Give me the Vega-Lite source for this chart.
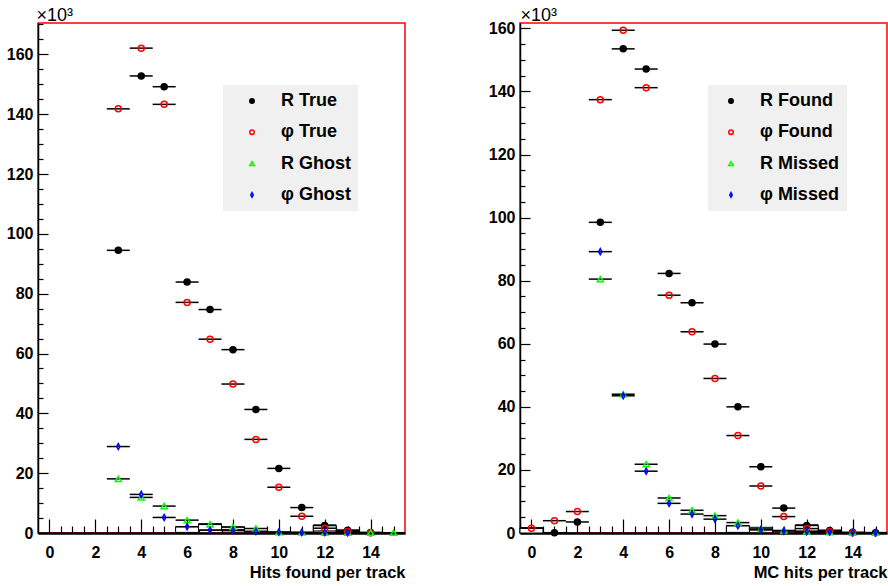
{
  "$schema": "https://vega.github.io/schema/vega-lite/v6.json",
  "padding": {"left": 5, "top": 5, "right": 0, "bottom": 0},
  "background": "white",
  "config": {
    "font": "Liberation Sans",
    "view": {"stroke": "#ff0000", "strokeWidth": 1.5},
    "axis": {
      "grid": false,
      "domainColor": "#000",
      "tickColor": "#000",
      "tickWidth": 1.2,
      "labelFont": "Liberation Sans",
      "labelFontSize": 16,
      "labelFontWeight": "bold",
      "labelColor": "#000",
      "titleFont": "Liberation Sans",
      "titleColor": "#000"
    }
  },
  "datasets": {
    "leftPts": [
      {"x": 3, "y": 94.5, "s": "R True"}, {"x": 4, "y": 152.8, "s": "R True"}, {"x": 5, "y": 149.2, "s": "R True"},
      {"x": 6, "y": 83.9, "s": "R True"}, {"x": 7, "y": 74.7, "s": "R True"}, {"x": 8, "y": 61.3, "s": "R True"},
      {"x": 9, "y": 41.3, "s": "R True"}, {"x": 10, "y": 21.6, "s": "R True"}, {"x": 11, "y": 8.5, "s": "R True"},
      {"x": 12, "y": 2.5, "s": "R True"}, {"x": 13, "y": 0.9, "s": "R True"}, {"x": 14, "y": 0.2, "s": "R True"},
      {"x": 3, "y": 141.8, "s": "φ True"}, {"x": 4, "y": 162.1, "s": "φ True"}, {"x": 5, "y": 143.3, "s": "φ True"},
      {"x": 6, "y": 77.1, "s": "φ True"}, {"x": 7, "y": 64.8, "s": "φ True"}, {"x": 8, "y": 49.8, "s": "φ True"},
      {"x": 9, "y": 31.3, "s": "φ True"}, {"x": 10, "y": 15.3, "s": "φ True"}, {"x": 11, "y": 5.6, "s": "φ True"},
      {"x": 12, "y": 1.6, "s": "φ True"}, {"x": 13, "y": 0.5, "s": "φ True"}, {"x": 14, "y": 0.1, "s": "φ True"},
      {"x": 3, "y": 18.1, "s": "R Ghost"}, {"x": 4, "y": 11.9, "s": "R Ghost"}, {"x": 5, "y": 9.0, "s": "R Ghost"},
      {"x": 6, "y": 4.3, "s": "R Ghost"}, {"x": 7, "y": 2.9, "s": "R Ghost"}, {"x": 8, "y": 2.0, "s": "R Ghost"},
      {"x": 9, "y": 1.5, "s": "R Ghost"}, {"x": 10, "y": 0.3, "s": "R Ghost"}, {"x": 11, "y": 0.2, "s": "R Ghost"},
      {"x": 12, "y": 0.1, "s": "R Ghost"}, {"x": 13, "y": 0.1, "s": "R Ghost"}, {"x": 14, "y": 0.1, "s": "R Ghost"},
      {"x": 15, "y": 0.1, "s": "R Ghost"},
      {"x": 3, "y": 28.9, "s": "φ Ghost"}, {"x": 4, "y": 12.9, "s": "φ Ghost"}, {"x": 5, "y": 5.2, "s": "φ Ghost"},
      {"x": 6, "y": 2.1, "s": "φ Ghost"}, {"x": 7, "y": 1.0, "s": "φ Ghost"}, {"x": 8, "y": 0.8, "s": "φ Ghost"},
      {"x": 9, "y": 0.5, "s": "φ Ghost"}, {"x": 10, "y": 0.3, "s": "φ Ghost"}, {"x": 11, "y": 0.2, "s": "φ Ghost"},
      {"x": 12, "y": 0.2, "s": "φ Ghost"}, {"x": 13, "y": 0.1, "s": "φ Ghost"}
    ],
    "rightPts": [
      {"x": 1, "y": 0.1, "s": "R Found"}, {"x": 2, "y": 3.5, "s": "R Found"}, {"x": 3, "y": 98.5, "s": "R Found"},
      {"x": 4, "y": 153.5, "s": "R Found"}, {"x": 5, "y": 147.1, "s": "R Found"}, {"x": 6, "y": 82.3, "s": "R Found"},
      {"x": 7, "y": 73.0, "s": "R Found"}, {"x": 8, "y": 59.9, "s": "R Found"}, {"x": 9, "y": 40.0, "s": "R Found"},
      {"x": 10, "y": 21.0, "s": "R Found"}, {"x": 11, "y": 7.9, "s": "R Found"}, {"x": 12, "y": 2.4, "s": "R Found"},
      {"x": 13, "y": 0.8, "s": "R Found"}, {"x": 14, "y": 0.2, "s": "R Found"}, {"x": 15, "y": 0.1, "s": "R Found"},
      {"x": 0, "y": 1.5, "s": "φ Found"}, {"x": 1, "y": 3.9, "s": "φ Found"}, {"x": 2, "y": 6.8, "s": "φ Found"},
      {"x": 3, "y": 137.4, "s": "φ Found"}, {"x": 4, "y": 159.4, "s": "φ Found"}, {"x": 5, "y": 141.2, "s": "φ Found"},
      {"x": 6, "y": 75.4, "s": "φ Found"}, {"x": 7, "y": 63.8, "s": "φ Found"}, {"x": 8, "y": 49.0, "s": "φ Found"},
      {"x": 9, "y": 30.9, "s": "φ Found"}, {"x": 10, "y": 14.9, "s": "φ Found"}, {"x": 11, "y": 5.2, "s": "φ Found"},
      {"x": 12, "y": 1.4, "s": "φ Found"}, {"x": 13, "y": 0.5, "s": "φ Found"}, {"x": 14, "y": 0.1, "s": "φ Found"},
      {"x": 3, "y": 80.5, "s": "R Missed"}, {"x": 4, "y": 44.0, "s": "R Missed"}, {"x": 5, "y": 21.8, "s": "R Missed"},
      {"x": 6, "y": 11.1, "s": "R Missed"}, {"x": 7, "y": 7.2, "s": "R Missed"}, {"x": 8, "y": 5.5, "s": "R Missed"},
      {"x": 9, "y": 3.3, "s": "R Missed"}, {"x": 10, "y": 1.3, "s": "R Missed"}, {"x": 11, "y": 0.8, "s": "R Missed"},
      {"x": 12, "y": 0.5, "s": "R Missed"}, {"x": 13, "y": 0.3, "s": "R Missed"}, {"x": 14, "y": 0.1, "s": "R Missed"},
      {"x": 15, "y": 0.1, "s": "R Missed"},
      {"x": 3, "y": 89.2, "s": "φ Missed"}, {"x": 4, "y": 43.5, "s": "φ Missed"}, {"x": 5, "y": 19.6, "s": "φ Missed"},
      {"x": 6, "y": 9.4, "s": "φ Missed"}, {"x": 7, "y": 6.0, "s": "φ Missed"}, {"x": 8, "y": 4.4, "s": "φ Missed"},
      {"x": 9, "y": 2.3, "s": "φ Missed"}, {"x": 10, "y": 1.0, "s": "φ Missed"}, {"x": 11, "y": 0.6, "s": "φ Missed"},
      {"x": 12, "y": 0.4, "s": "φ Missed"}, {"x": 13, "y": 0.3, "s": "φ Missed"}, {"x": 14, "y": 0.1, "s": "φ Missed"},
      {"x": 15, "y": 0.1, "s": "φ Missed"}
    ],
    "leftBands": [
      {"x": 6, "y": 0.2, "hi": 2.1}, {"x": 7, "y": 0.9, "hi": 3.1}, {"x": 8, "y": 1.2, "hi": 2.0},
      {"x": 9, "y": 0.6, "hi": 1.5}, {"x": 12, "y": 0.7, "hi": 2.7}, {"x": 13, "y": 0.3, "hi": 1.0}
    ],
    "rightBands": [
      {"x": 0, "y": 0.0, "hi": 1.7}, {"x": 9, "y": 0.2, "hi": 2.4}, {"x": 10, "y": 1.0, "hi": 1.8},
      {"x": 12, "y": 0.6, "hi": 2.6}, {"x": 13, "y": 0.3, "hi": 0.9}
    ]
  },
  "hconcat": [
    {
      "width": 367,
      "height": 510,
      "encoding": {
        "x": {
          "field": "x", "type": "quantitative",
          "scale": {"domain": [-0.5, 15.5], "nice": false, "zero": false, "padding": 0},
          "axis": {
            "values": [0,0.5,1,1.5,2,2.5,3,3.5,4,4.5,5,5.5,6,6.5,7,7.5,8,8.5,9,9.5,10,10.5,11,11.5,12,12.5,13,13.5,14,14.5,15],
            "labelExpr": "datum.value % 2 === 0 ? format(datum.value, 'd') : ''",
            "tickSize": {"condition": {"test": "datum.value % 2 === 0", "value": -14}, "value": -7},
            "labelPadding": 25,
            "labelFlush": false,
            "labelOverlap": false,
            "domainWidth": 2.5,
            "title": "Hits found per track",
            "titleAnchor": "end",
            "titleFontSize": 16.5,
            "titleFontWeight": "bold",
            "titlePadding": -3
          }
        },
        "y": {
          "field": "y", "type": "quantitative",
          "scale": {"domain": [0, 170.5], "nice": false, "padding": 0},
          "axis": {
            "values": [0,5,10,15,20,25,30,35,40,45,50,55,60,65,70,75,80,85,90,95,100,105,110,115,120,125,130,135,140,145,150,155,160,165,170],
            "labelExpr": "datum.value % 20 === 0 ? format(datum.value, 'd') : ''",
            "tickSize": {"condition": {"test": "datum.value % 20 === 0", "value": -10}, "value": -5},
            "labelPadding": 15,
            "labelFlush": false,
            "labelOverlap": false,
            "domainWidth": 1.5,
            "title": "×10³",
            "titleAngle": 0,
            "titleAlign": "left",
            "titleBaseline": "alphabetic",
            "titleX": -2,
            "titleY": -3,
            "titleFontSize": 18,
            "titleFontWeight": "normal"
          }
        }
      },
      "layer": [
        {
          "data": {"name": "leftBands"},
          "mark": {"type": "bar", "width": 23, "fill": "white", "stroke": "#000", "strokeWidth": 1},
          "encoding": {"y2": {"field": "hi"}}
        },
        {
          "data": {"name": "leftPts"},
          "mark": {"type": "tick", "orient": "horizontal", "size": 23, "thickness": 1.5, "color": "#000", "opacity": 1},
          "encoding": {}
        },
        {
          "data": {"name": "leftPts"},
          "mark": {"type": "point", "size": 36, "strokeWidth": 1.5, "opacity": 1},
          "encoding": {
            "shape": {"field": "s", "type": "nominal",
              "scale": {"domain": ["R True", "φ True", "R Ghost", "φ Ghost"], "range": ["circle", "circle", "triangle-up", "M0,-1L0.55,0L0,1L-0.55,0Z"]},
              "legend": {"title": null, "orient": "none", "legendX": 185, "legendY": 62, "fillColor": "#f0f0f0", "padding": 7,
                "symbolSize": 20, "symbolStrokeWidth": 1.5, "symbolOffset": 13, "labelOffset": 20, "labelFontSize": 18,
                "labelFontWeight": "bold", "labelFont": "Liberation Sans", "labelColor": "#000", "rowPadding": 13.3}},
            "fill": {"field": "s", "type": "nominal",
              "scale": {"domain": ["R True", "φ True", "R Ghost", "φ Ghost"], "range": ["#000000", "transparent", "transparent", "transparent"]},
              "legend": {"title": null, "orient": "none", "legendX": 185, "legendY": 62}},
            "stroke": {"field": "s", "type": "nominal",
              "scale": {"domain": ["R True", "φ True", "R Ghost", "φ Ghost"], "range": ["#000000", "#ff0000", "#00ff00", "#0000ff"]},
              "legend": {"title": null, "orient": "none", "legendX": 185, "legendY": 62}}
          }
        }
      ]
    },
    {
      "width": 367,
      "height": 510,
      "encoding": {
        "x": {
          "field": "x", "type": "quantitative",
          "scale": {"domain": [-0.5, 15.5], "nice": false, "zero": false, "padding": 0},
          "axis": {
            "values": [0,0.5,1,1.5,2,2.5,3,3.5,4,4.5,5,5.5,6,6.5,7,7.5,8,8.5,9,9.5,10,10.5,11,11.5,12,12.5,13,13.5,14,14.5,15],
            "labelExpr": "datum.value % 2 === 0 ? format(datum.value, 'd') : ''",
            "tickSize": {"condition": {"test": "datum.value % 2 === 0", "value": -14}, "value": -7},
            "labelPadding": 25,
            "labelFlush": false,
            "labelOverlap": false,
            "domainWidth": 2.5,
            "title": "MC hits per track",
            "titleAnchor": "end",
            "titleFontSize": 16.5,
            "titleFontWeight": "bold",
            "titlePadding": -3
          }
        },
        "y": {
          "field": "y", "type": "quantitative",
          "scale": {"domain": [0, 161.7], "nice": false, "padding": 0},
          "axis": {
            "values": [0,5,10,15,20,25,30,35,40,45,50,55,60,65,70,75,80,85,90,95,100,105,110,115,120,125,130,135,140,145,150,155,160],
            "labelExpr": "datum.value % 20 === 0 ? format(datum.value, 'd') : ''",
            "tickSize": {"condition": {"test": "datum.value % 20 === 0", "value": -10}, "value": -5},
            "labelPadding": 15,
            "labelFlush": false,
            "labelOverlap": false,
            "domainWidth": 1.5,
            "title": "×10³",
            "titleAngle": 0,
            "titleAlign": "left",
            "titleBaseline": "alphabetic",
            "titleX": 0,
            "titleY": -3,
            "titleFontSize": 18,
            "titleFontWeight": "normal"
          }
        }
      },
      "layer": [
        {
          "data": {"name": "rightBands"},
          "mark": {"type": "bar", "width": 23, "fill": "white", "stroke": "#000", "strokeWidth": 1},
          "encoding": {"y2": {"field": "hi"}}
        },
        {
          "data": {"name": "rightPts"},
          "mark": {"type": "tick", "orient": "horizontal", "size": 23, "thickness": 1.5, "color": "#000", "opacity": 1},
          "encoding": {}
        },
        {
          "data": {"name": "rightPts"},
          "mark": {"type": "point", "size": 36, "strokeWidth": 1.5, "opacity": 1},
          "encoding": {
            "shape": {"field": "s", "type": "nominal",
              "scale": {"domain": ["R Found", "φ Found", "R Missed", "φ Missed"], "range": ["circle", "circle", "triangle-up", "M0,-1L0.55,0L0,1L-0.55,0Z"]},
              "legend": {"title": null, "orient": "none", "legendX": 188, "legendY": 62, "fillColor": "#f0f0f0", "padding": 7,
                "symbolSize": 20, "symbolStrokeWidth": 1.5, "symbolOffset": 7, "labelOffset": 20, "labelFontSize": 18,
                "labelFontWeight": "bold", "labelFont": "Liberation Sans", "labelColor": "#000", "rowPadding": 13.3}},
            "fill": {"field": "s", "type": "nominal",
              "scale": {"domain": ["R Found", "φ Found", "R Missed", "φ Missed"], "range": ["#000000", "transparent", "transparent", "transparent"]},
              "legend": {"title": null, "orient": "none", "legendX": 188, "legendY": 62}},
            "stroke": {"field": "s", "type": "nominal",
              "scale": {"domain": ["R Found", "φ Found", "R Missed", "φ Missed"], "range": ["#000000", "#ff0000", "#00ff00", "#0000ff"]},
              "legend": {"title": null, "orient": "none", "legendX": 188, "legendY": 62}}
          }
        }
      ]
    }
  ],
  "spacing": 81,
  "resolve": {
    "scale": {"x": "independent", "y": "independent", "shape": "independent", "fill": "independent", "stroke": "independent"},
    "legend": {"shape": "independent", "fill": "independent", "stroke": "independent"}
  }
}
